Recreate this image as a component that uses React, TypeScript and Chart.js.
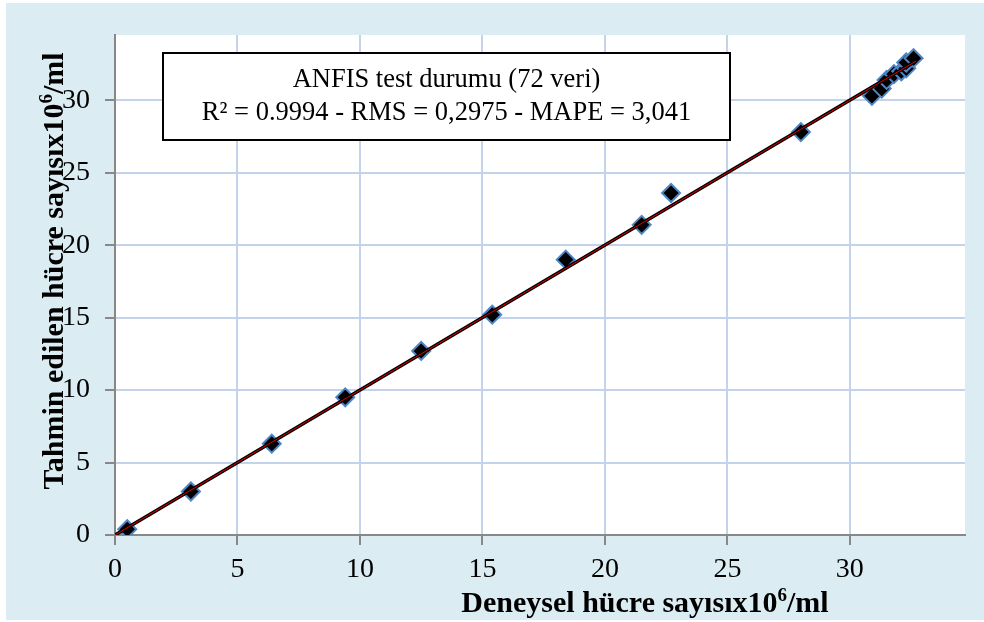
import React, { useEffect, useRef } from "react";
import { Chart, registerables } from "chart.js";

Chart.register(...registerables);

const measuredX: number[] = [0.5, 3.1, 6.4, 9.4, 12.5, 15.4, 18.4, 21.5, 22.7, 28.0, 30.9, 31.3, 31.5, 31.8, 32.1, 32.3, 32.3, 32.6];
const predictedY: number[] = [0.4, 3.0, 6.3, 9.5, 12.7, 15.2, 19.0, 21.4, 23.6, 27.8, 30.3, 30.8, 31.4, 31.8, 32.0, 32.2, 32.6, 32.9];
const trendX: number[] = [0, 32.7];
const trendY: number[] = [0, 32.7];
const tickValues: number[] = [0, 5, 10, 15, 20, 25, 30];
const xTitleMain = "Deneysel hücre sayısıx10";
const yTitleMain = "Tahmin edilen hücre sayısıx10";
const titleSup = "6";
const titleTail = "/ml";
const boxLine1 = "ANFIS test durumu (72 veri)";
const boxLine2 = "R² = 0.9994 - RMS = 0,2975 - MAPE = 3,041";

const SERIF = "'Liberation Serif', 'Times New Roman', serif";

function drawSupText(ctx: CanvasRenderingContext2D, cx: number, baseline: number) {
  const mainFont = `bold 30px ${SERIF}`;
  const supFont = `bold 19px ${SERIF}`;
  return (main: string) => {
    ctx.font = mainFont;
    const w1 = ctx.measureText(main).width;
    const w3 = ctx.measureText(titleTail).width;
    ctx.font = supFont;
    const w2 = ctx.measureText(titleSup).width;
    const total = w1 + w2 + w3;
    let x = cx - total / 2;
    ctx.textAlign = "left";
    ctx.textBaseline = "alphabetic";
    ctx.fillStyle = "#000";
    ctx.font = mainFont;
    ctx.fillText(main, x, baseline);
    x += w1;
    ctx.font = supFont;
    ctx.fillText(titleSup, x, baseline - 11);
    x += w2;
    ctx.font = mainFont;
    ctx.fillText(titleTail, x, baseline);
  };
}

const decorPlugin = {
  id: "decor",
  beforeDraw(chart: any) {
    const ctx = chart.ctx as CanvasRenderingContext2D;
    ctx.save();
    ctx.fillStyle = "#ffffff";
    ctx.fillRect(0, 0, chart.width, chart.height);
    ctx.fillStyle = "#dbedf3";
    ctx.fillRect(6, 3, chart.width - 6, chart.height - 5);
    const a = chart.chartArea;
    ctx.fillStyle = "#ffffff";
    ctx.fillRect(a.left, a.top, a.right - a.left, a.bottom - a.top);
    ctx.restore();
  },
  afterDraw(chart: any) {
    const ctx = chart.ctx as CanvasRenderingContext2D;
    const a = chart.chartArea;
    ctx.save();
    // annotation box
    const bx = a.left + 48;
    const by = a.top + 18;
    const bw = 567;
    const bh = 87;
    ctx.fillStyle = "#ffffff";
    ctx.fillRect(bx, by, bw, bh);
    ctx.strokeStyle = "#000";
    ctx.lineWidth = 2;
    ctx.strokeRect(bx, by, bw, bh);
    ctx.fillStyle = "#000";
    ctx.font = `26.5px ${SERIF}`;
    ctx.textAlign = "center";
    ctx.textBaseline = "alphabetic";
    ctx.fillText(boxLine1, bx + bw / 2, by + 34);
    ctx.fillText(boxLine2, bx + bw / 2, by + 67);
    // x title
    drawSupText(ctx, 645, 612)(xTitleMain);
    // y title
    ctx.save();
    ctx.translate(63, 271);
    ctx.rotate(-Math.PI / 2);
    drawSupText(ctx, 0, 0)(yTitleMain);
    ctx.restore();
    ctx.restore();
  },
};

export default function App() {
  const ref = useRef<HTMLCanvasElement | null>(null);
  useEffect(() => {
    if (!ref.current) return;
    const points = measuredX.map((x, i) => ({ x, y: predictedY[i] }));
    const trend = trendX.map((x, i) => ({ x, y: trendY[i] }));
    const axisCommon = (isX: boolean) => ({
      type: "linear" as const,
      min: 0,
      max: isX ? 34.7 : 34.5,
      afterBuildTicks: (scale: any) => {
        scale.ticks = tickValues.map((v) => ({ value: v }));
      },
      afterFit: (scale: any) => {
        if (isX) scale.height = 87;
        else scale.width = 115;
      },
      grid: {
        color: "#c4d3ec",
        lineWidth: 2,
        tickColor: "#888888",
        tickLength: 10,
        tickWidth: 2,
      },
      border: { color: "#888888", width: 2 },
      ticks: {
        color: "#000",
        font: { family: SERIF, size: 28 },
        padding: isX ? 8 : 15,
      },
      title: { display: false },
    });
    const chart = new Chart(ref.current, {
      type: "scatter",
      data: {
        datasets: [
          {
            type: "line",
            label: "trend red",
            data: trend,
            borderColor: "#e00000",
            borderWidth: 1,
            pointRadius: 0,
            order: 1,
          },
          {
            type: "line",
            label: "trend",
            data: trend,
            borderColor: "#000000",
            borderWidth: 3.5,
            pointRadius: 0,
            order: 2,
          },
          {
            label: "ANFIS",
            data: points,
            pointStyle: "rectRot",
            pointRadius: 9,
            backgroundColor: "#000000",
            borderColor: "#4f86c6",
            borderWidth: 2,
            order: 3,
          },
        ],
      },
      options: {
        responsive: false,
        animation: false,
        layout: { padding: { left: 0, right: 19, top: 35, bottom: 0 } },
        plugins: {
          legend: { display: false },
          tooltip: { enabled: false },
        },
        scales: {
          x: axisCommon(true),
          y: axisCommon(false),
        },
      } as any,
      plugins: [decorPlugin],
    });
    return () => chart.destroy();
  }, []);
  return (
    <div style={{ position: "fixed", left: 0, top: 0, width: 984, height: 622 }}>
      <canvas ref={ref} width={984} height={622} />
    </div>
  );
}
